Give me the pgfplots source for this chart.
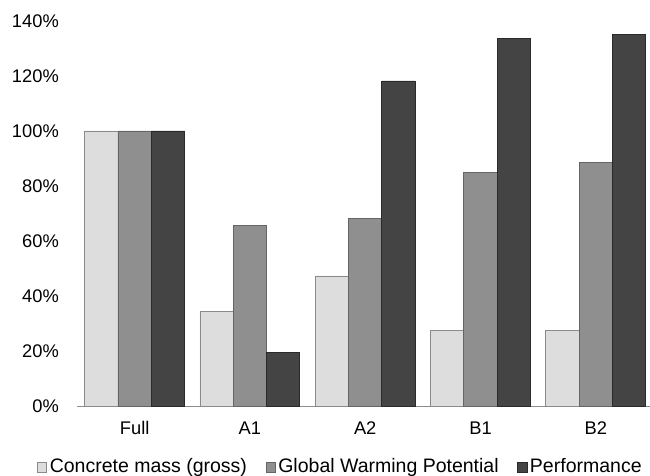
\documentclass[border=0pt]{standalone}
\usepackage{pgfplots}
\pgfplotsset{compat=1.18}
\usepackage{fontspec}
\setmainfont{Liberation Sans}
\definecolor{cLight}{HTML}{DADADA}
\definecolor{cLightB}{HTML}{8A8A8A}
\definecolor{cMid}{HTML}{878787}
\definecolor{cMidB}{HTML}{656565}
\definecolor{cDark}{HTML}{363636}
\definecolor{cDarkB}{HTML}{2A2A2A}
\definecolor{cGrid}{HTML}{D4D4D4}
\definecolor{cAxis}{HTML}{8C8C8C}
\begin{document}
\begin{tikzpicture}
\begin{axis}[
  at={(0,0)}, anchor=south west,
  scale only axis,
  width=573bp, height=385bp,
  xmin=-0.5, xmax=4.47,
  ymin=0, ymax=140,
  ybar=0pt, bar width=33.3bp,
  axis x line*=bottom,
  axis y line=none,
  x axis line style={cAxis, line width=1bp, -},
  xtick={0,1,2,3,4},
  xticklabels={Full,A1,A2,B1,B2},
  major tick length=0pt,
  xticklabel style={anchor=base, inner sep=0pt, yshift=-28bp, font=\fontsize{18.3bp}{22bp}\selectfont},
  ytick={0,20,40,60,80,100,120,140},
  ymajorgrids,
  grid style={cGrid, line width=1bp},
  clip=false,
  legend columns=3,
  legend style={draw=none, fill=none, inner sep=0pt, outer sep=0pt,
    at={(axis cs:-0.5,0)}, anchor=base west, xshift=-40bp, yshift=-66bp,
    font=\fontsize{19.5bp}{23bp}\selectfont,
    nodes={inner sep=0pt, anchor=base west},
    /tikz/every odd column/.style={column sep=2.5bp},
    /tikz/every even column/.style={column sep=18.5bp}},
  legend image code/.code={\draw[#1, line width=0.8bp] (0bp,0bp) rectangle (9.5bp,9.5bp);},
]
\addplot[fill=cLight, fill opacity=0.93, draw=cLightB, line width=0.8bp] coordinates {(0,100) (1,34.5) (2,47.3) (3,27.5) (4,27.5)};
\addplot[fill=cMid, fill opacity=0.93, draw=cMidB, line width=0.8bp] coordinates {(0,100) (1,65.5) (2,68.2) (3,85.0) (4,88.4)};
\addplot[fill=cDark, fill opacity=0.93, draw=cDarkB, line width=0.8bp] coordinates {(0,100) (1,19.4) (2,118.2) (3,133.7) (4,135.2)};
\legend{Concrete mass (gross),Global Warming Potential,Performance}
\foreach \v in {0,20,40,60,80,100,120,140}{
  \edef\tmp{\noexpand\node[anchor=east, inner sep=0pt, font=\noexpand\fontsize{18.3bp}{22bp}\noexpand\selectfont] at (axis cs:-0.5,\v) [xshift=-18bp] {\v\noexpand\%};}
  \tmp
}
\end{axis}
\pgfresetboundingbox
\path[use as bounding box] (-77bp,-70bp) rectangle (573bp,406bp);
\end{tikzpicture}
\end{document}
